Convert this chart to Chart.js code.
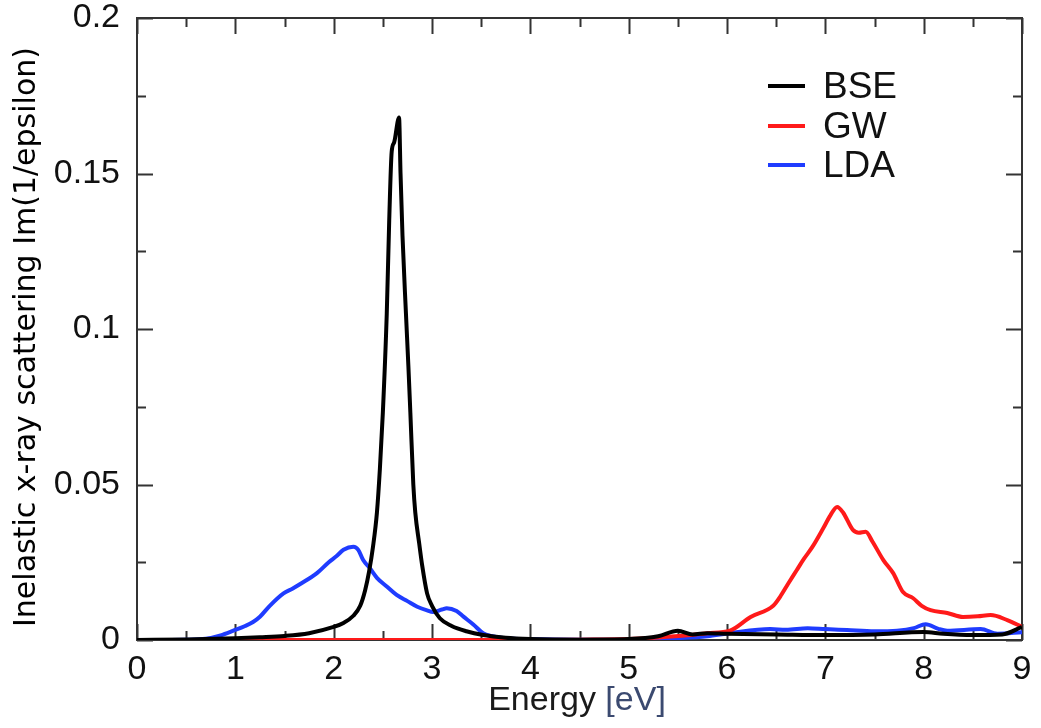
<!DOCTYPE html>
<html>
<head>
<meta charset="utf-8">
<script src="https://cdn.jsdelivr.net/npm/chart.js@4.4.1/dist/chart.umd.min.js"></script>
<style>
  html, body { margin: 0; padding: 0; background: #fff; }
  #wrap { width: 1041px; height: 728px; }
</style>
</head>
<body>
<div id="wrap"><canvas id="chart" width="1041" height="728"></canvas></div>
<script>
// Energy (eV) and Im(1/epsilon), one pair of arrays per curve
var bseEnergy = [0, 0.5, 1.0, 1.25, 1.5, 1.75, 2.0, 2.1, 2.2, 2.27, 2.32, 2.36, 2.40, 2.44, 2.47, 2.50, 2.54, 2.565, 2.59, 2.615, 2.665,
                 2.68, 2.70, 2.735, 2.76, 2.78, 2.81, 2.83, 2.87, 2.90, 2.95, 3.0, 3.08, 3.2, 3.35, 3.52, 3.75, 4.0, 4.5, 5.0,
                 5.3, 5.5, 5.65, 5.8, 6.0, 6.5, 7.0, 7.5, 8.0, 8.2, 8.5, 8.8, 9.0];
var bseValue  = [0, 0.0002, 0.0006, 0.0009, 0.0013, 0.0022, 0.0042, 0.0055, 0.0078, 0.011, 0.016, 0.022, 0.030, 0.041, 0.055, 0.073, 0.105, 0.135, 0.157, 0.160, 0.168,
                 0.150, 0.130, 0.105, 0.088, 0.073, 0.050, 0.041, 0.031, 0.024, 0.015, 0.011, 0.007, 0.0045, 0.0028, 0.0016, 0.0007, 0.0003, 0.0001, 0.0003,
                 0.0012, 0.003, 0.0018, 0.0022, 0.002, 0.0018, 0.0016, 0.0018, 0.0026, 0.002, 0.0016, 0.0018, 0.0042];

var gwEnergy = [0, 1, 2, 3, 4, 4.5, 5.0, 5.3, 5.6, 5.8, 6.03, 6.24, 6.47, 6.54, 6.62, 6.71, 6.78, 6.87, 6.98, 7.05, 7.12, 7.18,
                7.28, 7.34, 7.41, 7.48, 7.59, 7.69, 7.79, 7.89, 7.98, 8.07, 8.24, 8.40, 8.55, 8.68, 8.85, 9.0];
var gwValue  = [0, 0, 0, 0, 0, 0.0001, 0.0003, 0.0008, 0.0015, 0.0022, 0.003, 0.0074, 0.011, 0.0139, 0.018, 0.0225, 0.026, 0.030, 0.036, 0.040, 0.0428, 0.041,
                0.0354, 0.0345, 0.0348, 0.0316, 0.0257, 0.0215, 0.0154, 0.0135, 0.011, 0.0096, 0.0087, 0.0074, 0.0076, 0.008, 0.0064, 0.0042];

var ldaEnergy = [0, 0.5, 0.7, 0.85, 0.98, 1.1, 1.18, 1.25, 1.35, 1.49, 1.58, 1.66, 1.83, 1.95, 2.03, 2.10, 2.2, 2.25, 2.3, 2.37, 2.44,
                 2.54, 2.64, 2.75, 2.85, 2.95, 3.01, 3.1, 3.15, 3.25, 3.32, 3.42, 3.52, 3.6, 3.75, 4.0, 4.5, 5.0, 5.5, 5.8, 6.03,
                 6.44, 6.6, 6.82, 7.0, 7.22, 7.5, 7.73, 7.9, 8.02, 8.15, 8.24, 8.58, 8.75, 9.0];
var ldaValue  = [0, 0.0001, 0.0004, 0.0015, 0.003, 0.0045, 0.0058, 0.0075, 0.011, 0.015, 0.0165, 0.018, 0.0215, 0.025, 0.027, 0.029, 0.030, 0.029, 0.0257, 0.023, 0.020,
                 0.0172, 0.0145, 0.0125, 0.0107, 0.0095, 0.009, 0.0098, 0.0102, 0.0093, 0.0075, 0.005, 0.0022, 0.0013, 0.0006, 0.0003, 0.0001, 0.0001, 0.0006, 0.0012, 0.0022,
                 0.0035, 0.0033, 0.0038, 0.0035, 0.0032, 0.0028, 0.003, 0.0038, 0.0051, 0.0036, 0.003, 0.0035, 0.002, 0.0025];

var seriesNames = ['BSE', 'GW', 'LDA'];
var seriesColors = ['#000000', '#ff1a1a', '#1f3cff'];
var xTitle = 'Energy';
var xUnit = '[eV]';
var yTitle = 'Inelastic x-ray scattering Im(1/epsilon)';

function points(xs, ys) {
    return xs.map(function(x, i) { return { x: x, y: ys[i] }; });
}

var FONT = '"Liberation Sans", Arial, Helvetica, sans-serif';

// frame, inward ticks, axis titles and legend in the xmgrace style
var gracePlugin = {
    id: 'grace',
    beforeDatasetsDraw: function(chart) {
        var ctx = chart.ctx, a = chart.chartArea;
        var xs = chart.scales.x, ys = chart.scales.y;
        ctx.save();
        ctx.strokeStyle = '#333';
        ctx.lineWidth = 2;
        ctx.strokeRect(a.left, a.top, a.right - a.left, a.bottom - a.top);

        var major = 16, minor = 9;
        // x ticks, bottom and top
        xs.ticks.forEach(function(t, i) {
            var vals = [[t.value, major]];
            if (i < xs.ticks.length - 1) vals.push([(t.value + xs.ticks[i + 1].value) / 2, minor]);
            vals.forEach(function(v) {
                var px = Math.round(xs.getPixelForValue(v[0])) + 0.5;
                ctx.beginPath();
                ctx.moveTo(px, a.bottom); ctx.lineTo(px, a.bottom - v[1]);
                ctx.moveTo(px, a.top); ctx.lineTo(px, a.top + v[1]);
                ctx.stroke();
            });
        });
        // y ticks, left and right
        ys.ticks.forEach(function(t, i) {
            var vals = [[t.value, major]];
            if (i < ys.ticks.length - 1) vals.push([(t.value + ys.ticks[i + 1].value) / 2, minor]);
            vals.forEach(function(v) {
                var py = Math.round(ys.getPixelForValue(v[0])) + 0.5;
                ctx.beginPath();
                ctx.moveTo(a.left, py); ctx.lineTo(a.left + v[1], py);
                ctx.moveTo(a.right, py); ctx.lineTo(a.right - v[1], py);
                ctx.stroke();
            });
        });
        ctx.restore();
    },
    afterDraw: function(chart) {
        var ctx = chart.ctx, a = chart.chartArea;
        ctx.save();
        // x title, the unit in a slate blue
        ctx.font = '34px ' + FONT;
        ctx.textBaseline = 'alphabetic';
        var w1 = ctx.measureText(xTitle + ' ').width;
        var w2 = ctx.measureText(xUnit).width;
        var x0 = 577 - (w1 + w2) / 2;
        ctx.fillStyle = '#1a1a1a';
        ctx.fillText(xTitle + ' ', x0, 710);
        ctx.fillStyle = '#3b4a70';
        ctx.fillText(xUnit, x0 + w1, 710);

        // y title
        ctx.translate(27, 337);
        ctx.rotate(-Math.PI / 2);
        ctx.font = '30px "DejaVu Sans", Verdana, sans-serif';
        ctx.fillStyle = '#000';
        ctx.textAlign = 'center';
        ctx.textBaseline = 'middle';
        ctx.fillText(yTitle, 0, 0);
        ctx.restore();

        // legend
        ctx.save();
        ctx.font = '37px ' + FONT;
        ctx.textBaseline = 'middle';
        var rows = [86, 126, 165];
        chart.data.datasets.forEach(function(ds, i) {
            ctx.strokeStyle = ds.borderColor;
            ctx.lineWidth = 4;
            ctx.beginPath();
            ctx.moveTo(768, rows[i]); ctx.lineTo(805, rows[i]);
            ctx.stroke();
            ctx.fillStyle = '#111';
            ctx.fillText(ds.label, 823, rows[i] + 2);
        });
        ctx.restore();
    }
};

var config = {
    type: 'line',
    data: {
        datasets: [
            { label: seriesNames[0], data: points(bseEnergy, bseValue), borderColor: seriesColors[0] },
            { label: seriesNames[1], data: points(gwEnergy, gwValue), borderColor: seriesColors[1] },
            { label: seriesNames[2], data: points(ldaEnergy, ldaValue), borderColor: seriesColors[2] }
        ]
    },
    options: {
        responsive: false,
        animation: false,
        events: [],
        datasets: {
            line: { borderWidth: 4, pointRadius: 0, fill: false, cubicInterpolationMode: 'monotone' }
        },
        layout: { padding: { top: 18, right: 19, left: 0, bottom: 0 } },
        plugins: {
            legend: { display: false },
            tooltip: { enabled: false }
        },
        scales: {
            x: {
                type: 'linear',
                min: 0, max: 9,
                grid: { display: false },
                border: { display: false },
                ticks: { stepSize: 1, color: '#111', padding: 1, font: { family: FONT, size: 34 } },
                afterFit: function(s) { s.height = 88; s.paddingLeft = 0; s.paddingRight = 0; }
            },
            y: {
                min: 0, max: 0.2,
                grid: { display: false },
                border: { display: false },
                ticks: {
                    stepSize: 0.05, color: '#111', padding: 9, font: { family: FONT, size: 34 },
                    callback: function(v) { return String(parseFloat(v.toFixed(3))); }
                },
                afterFit: function(s) { s.width = 137; s.paddingTop = 0; s.paddingBottom = 0; }
            }
        }
    },
    plugins: [gracePlugin]
};

window.onload = function() {
    var ctx = document.getElementById('chart').getContext('2d');
    window.myChart = new Chart(ctx, config);
};
</script>
</body>
</html>
